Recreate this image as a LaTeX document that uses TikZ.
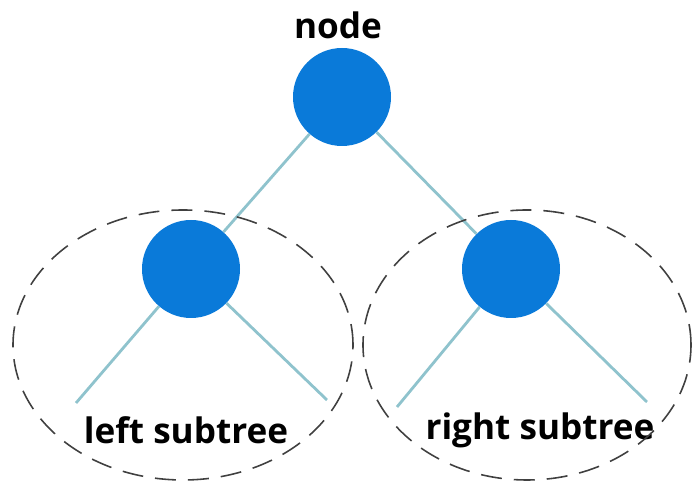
\documentclass[tikz,border=0pt]{standalone}
\usepackage{fontspec}
\setmainfont{Open Sans}
\definecolor{nodeblue}{RGB}{10,122,217}
\definecolor{edgeteal}{RGB}{143,195,205}
\tikzset{
  vertex/.style={circle, fill=nodeblue, minimum size=1.96cm, inner sep=0pt},
  edge/.style={draw=edgeteal, line width=1.6pt},
  group/.style={draw=black!75, line width=0.9pt, dash pattern=on 0.42cm off 0.24cm},
  lbl/.style={font=\bfseries\fontsize{20}{24}\selectfont}
}
\begin{document}
\begin{tikzpicture}
\useasboundingbox (0,0) rectangle (13.9,9.64);

\node[vertex] (n01) at (6.84, 7.70) {};

\node[vertex] (n11) at (3.82, 4.26) {};
\node[vertex] (n12) at (10.22, 4.26) {};

\coordinate (n21) at (1.52, 1.58);
\coordinate (n22) at (6.54, 1.64);
\coordinate (n23) at (7.94, 1.50);
\coordinate (n24) at (12.94, 1.60);

\node[lbl] (top) at (6.76, 9.14) {node};
\node[lbl] (lsub) at (3.72, 1.04) {left subtree};
\node[lbl] (rsub) at (10.8, 1.04) {right subtree};

\draw[edge] (n01) -- (n11);
\draw[edge] (n01) -- (n12);

\draw[edge] (n11) -- (n21);
\draw[edge] (n11) -- (n22);

\draw[edge] (n12) -- (n23);
\draw[edge] (n12) -- (n24);

\draw[group] (3.66, 2.74) ellipse (3.40 and 2.70);
\draw[group] (10.54, 2.74) ellipse (3.28 and 2.70);
\end{tikzpicture}
\end{document}
